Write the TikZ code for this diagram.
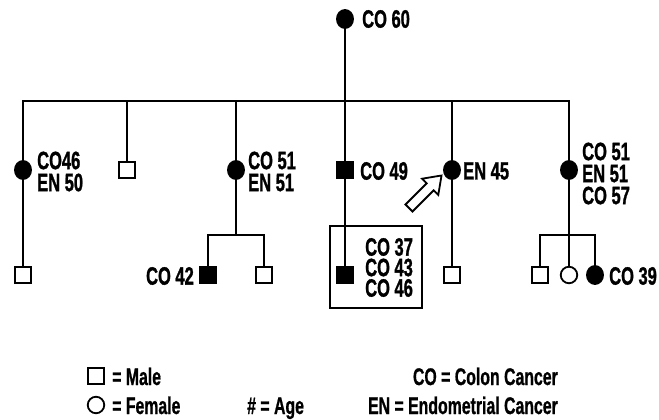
\documentclass[tikz,border=0pt]{standalone}
\usepackage{fontspec}
\usepackage{graphicx}
\usetikzlibrary{shapes.geometric}
\newfontfamily\cond{Liberation Sans Bold}[FakeBold=1.5]
\newfontfamily\condleg{Liberation Sans Bold}[FakeBold=1]
\newcommand\cn[1]{\scalebox{0.66}[1]{#1}}
\tikzset{
  lbl/.style={font=\cond\fontsize{25}{22}\selectfont, inner sep=0pt, align=left},
  boxlbl/.style={font=\cond\fontsize{25}{20.5}\selectfont, inner sep=0pt, align=left},
  leg/.style={font=\condleg\fontsize{24}{24}\selectfont, inner sep=0pt},
  fcirc/.style={ellipse, draw, fill=black, minimum width=16.5pt, minimum height=18.5pt, inner sep=0pt, line width=1.4pt},
  ocirc/.style={circle, draw, fill=white, minimum size=16.5pt, inner sep=0pt, line width=1.8pt},
  fsq/.style={rectangle, draw, fill=black, minimum size=17pt, inner sep=0pt, line width=1.4pt},
  osq/.style={rectangle, draw, fill=white, minimum size=16.5pt, inner sep=0pt, line width=1.8pt},
  conn/.style={line width=2.5pt},
  frame/.style={draw, line width=2.2pt, inner sep=0pt}
}
\begin{document}
\begin{tikzpicture}[x=1pt,y=-1pt]
\useasboundingbox (0,0) rectangle (659,420);
% generation I
\node[fcirc] (I) at (345,19) {};
\node[lbl, anchor=west] (Il) at (362,19) {\cn{CO 60}};
% generation II
\node[fcirc] (A1) at (23,170) {};
\node[osq]   (A2) at (127,170) {};
\node[fcirc] (A3) at (236,170) {};
\node[fsq]   (A4) at (345,170) {};
\node[fcirc] (A5) at (452,170) {};
\node[fcirc] (A6) at (569,170) {};
\node[lbl, anchor=west] (A1l) at (37,171.5) {\cn{CO46}\\\cn{EN 50}};
\node[lbl, anchor=west] (A3l) at (248,171.5) {\cn{CO 51}\\\cn{EN 51}};
\node[lbl, anchor=west] (A4l) at (360,171) {\cn{CO 49}};
\node[lbl, anchor=west] (A5l) at (463,171) {\cn{EN 45}};
\node[lbl, anchor=west] (A6l) at (582,173.5) {\cn{CO 51}\\\cn{EN 51}\\\cn{CO 57}};
% generation III
\node[osq]   (B1) at (23,275) {};
\node[fsq]   (B2) at (208,275) {};
\node[osq]   (B3) at (264,275) {};
\node[fsq]   (B4) at (345,275) {};
\node[osq]   (B5) at (452,275) {};
\node[osq]   (B6) at (540,275) {};
\node[ocirc] (B7) at (569,275) {};
\node[fcirc] (B8) at (595,275) {};
\node[lbl, anchor=east] (B2l) at (194,276) {\cn{CO 42}};
\node[lbl, anchor=west] (B8l) at (609,276) {\cn{CO 39}};
\node[boxlbl, anchor=west] (B4l) at (365,267.5) {\cn{CO 37}\\\cn{CO 43}\\\cn{CO 46}};
\node[frame, minimum width=92pt, minimum height=82pt] (box) at (376,267) {};
% sibship coordinates
\coordinate (bL) at (23,101);
\coordinate (bR) at (569,101);
\coordinate (s1) at (236,235);
\coordinate (s2) at (569,235);
% connectors
\draw[conn] (I) -- (I |- bL);
\draw[conn] (A1) -- (A1 |- bL) -- (bR) -- (A6);
\draw[conn] (A2) -- (A2 |- bL);
\draw[conn] (A3) -- (A3 |- bL);
\draw[conn] (A4) -- (A4 |- bL);
\draw[conn] (A5) -- (A5 |- bL);
\draw[conn] (A1) -- (B1);
\draw[conn] (A3) -- (s1);
\draw[conn] (B2) |- (s1);
\draw[conn] (B3) |- (s1);
\draw[conn] (A4) -- (B4);
\draw[conn] (A5) -- (B5);
\draw[conn] (A6) -- (s2);
\draw[conn] (B6) |- (s2);
\draw[conn] (B8) |- (s2);
\draw[conn] (B7) -- (s2);
% pointer arrow
\draw[line width=1.8pt, fill=white, line join=miter]
  (412.5,211.5) -- (433.7,190.3) -- (438.3,194.9) -- (441.5,175.5)
  -- (422.1,178.7) -- (426.7,183.3) -- (405.5,204.5) -- cycle;
% legend
\node[osq] (LM) at (96,376) {};
\node[leg, anchor=base west] (LMt) at (112,385) {\cn{= Male}};
\node[ocirc] (LF) at (96,405) {};
\node[leg, anchor=base west] (LFt) at (112,414) {\cn{= Female}};
\node[leg, anchor=base west] (LA) at (247,414) {\cn{\# = Age}};
\node[leg, anchor=base east] (LC) at (558,385) {\cn{CO = Colon Cancer}};
\node[leg, anchor=base east] (LE) at (558,414) {\cn{EN = Endometrial Cancer}};
\end{tikzpicture}
\end{document}
